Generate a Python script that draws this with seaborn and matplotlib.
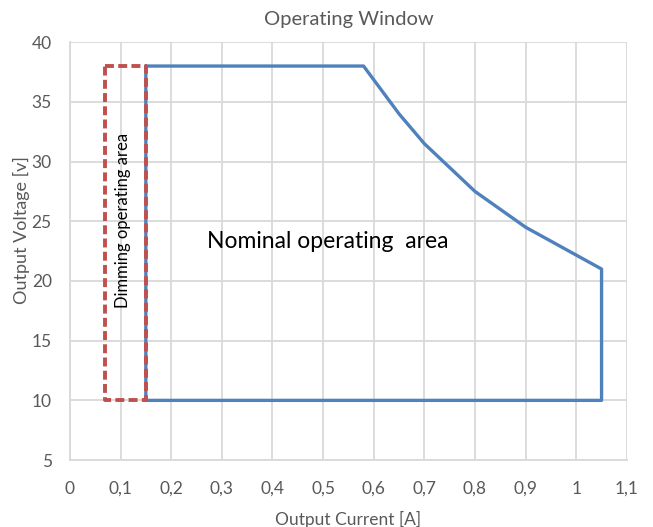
import matplotlib
matplotlib.use("Agg")
import matplotlib.pyplot as plt
import seaborn as sns
import pandas as pd

# Nominal operating area outline (Output Current [A], Output Voltage [V])
nominal_current = [0.15, 0.58, 0.65, 0.70, 0.80, 0.90, 1.05, 1.05, 0.15, 0.15]
nominal_voltage = [38.0, 38.0, 34.0, 31.5, 27.5, 24.5, 21.0, 10.0, 10.0, 38.0]

# Dimming operating area outline
dimming_current = [0.07, 0.15, 0.15, 0.07, 0.07]
dimming_voltage = [38.0, 38.0, 10.0, 10.0, 38.0]

x_ticks = [0, 0.1, 0.2, 0.3, 0.4, 0.5, 0.6, 0.7, 0.8, 0.9, 1.0, 1.1]
x_tick_labels = ["0", "0,1", "0,2", "0,3", "0,4", "0,5", "0,6", "0,7", "0,8", "0,9", "1", "1,1"]
y_ticks = [5, 10, 15, 20, 25, 30, 35, 40]

sns.set_theme(style="white")
plt.rcParams['font.family'] = ['Lato', 'DejaVu Sans']

grey = "#595959"
grid_c = "#d9d9d9"

fig = plt.figure(figsize=(6.53, 5.27), dpi=100)
ax = fig.add_axes([0.107, 0.127, 0.853, 0.793])

df_nom = pd.DataFrame({"I": nominal_current, "V": nominal_voltage})
df_dim = pd.DataFrame({"I": dimming_current, "V": dimming_voltage})

sns.lineplot(data=df_nom, x="I", y="V", sort=False, estimator=None, ax=ax,
             color="#4f81bd", linewidth=2.4, zorder=3)
sns.lineplot(data=df_dim, x="I", y="V", sort=False, estimator=None, ax=ax,
             color="#c0504d", linewidth=2.8, zorder=4)
ax.lines[-1].set_linestyle((0, (2.3, 1.1)))

ax.set_xlim(0, 1.1)
ax.set_ylim(5, 40)
ax.set_xticks(x_ticks)
ax.set_xticklabels(x_tick_labels)
ax.set_yticks(y_ticks)
ax.tick_params(axis="y", colors=grey, labelsize=12.5, length=0, pad=13)
ax.tick_params(axis="x", colors=grey, labelsize=12.5, length=0, pad=15)

ax.grid(True, color=grid_c, linewidth=1.3, zorder=0)
ax.set_axisbelow(True)
for s in ["top", "right"]:
    ax.spines[s].set_visible(False)
for s in ["left", "bottom"]:
    ax.spines[s].set_color(grid_c)
    ax.spines[s].set_linewidth(1.3)

ax.set_xlabel("Output Current [A]", color=grey, fontsize=12.5, labelpad=10)
ax.set_ylabel("Output Voltage [v]", color=grey, fontsize=13, labelpad=8)
ax.yaxis.set_label_coords(-0.072, 0.55)
ax.set_title("Operating Window", color=grey, fontsize=14.5, pad=12)

ax.text(0.27, 23.3, "Nominal operating  area", fontsize=16.5, color="black",
        ha="left", va="center")
ax.text(0.105, 25.1, "Dimming operating area", fontsize=12, color="black",
        rotation=90, ha="center", va="center")

fig.savefig("out.png", dpi=100)
